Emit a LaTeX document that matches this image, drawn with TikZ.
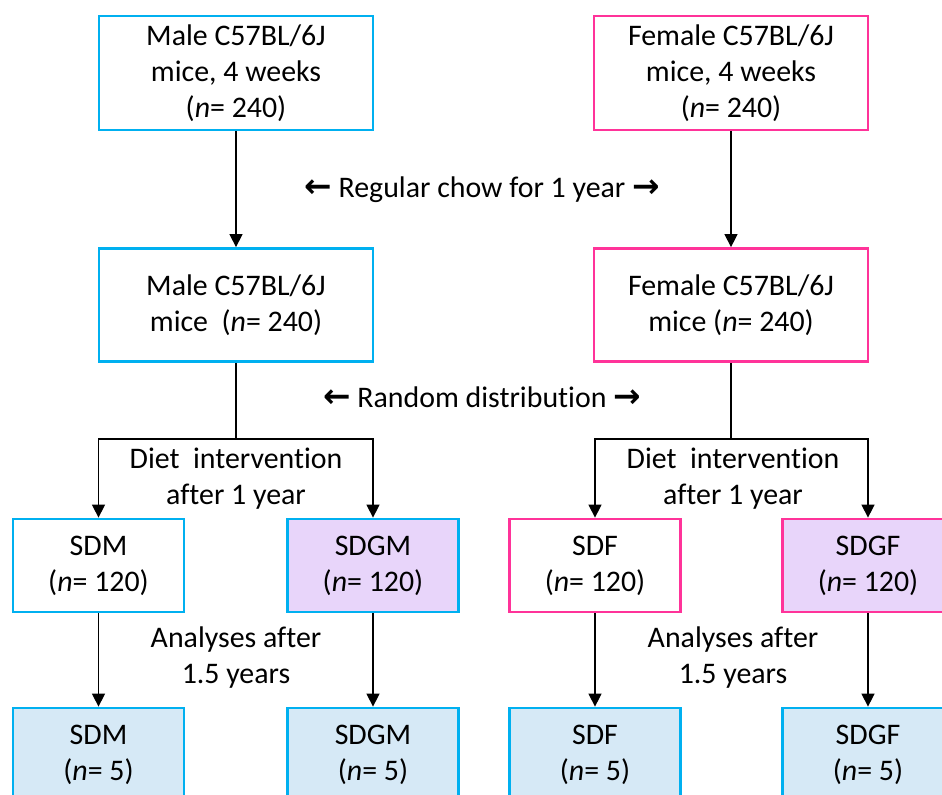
\documentclass[tikz,border=0pt]{standalone}
\usepackage{fontspec}
\setmainfont[Ligatures=NoCommon]{Carlito}
\newfontfamily\arrowfont[Scale=1.1]{DejaVu Sans Bold}
\usetikzlibrary{arrows.meta}
\definecolor{maleblue}{HTML}{00B0F0}
\definecolor{femalepink}{HTML}{FF3399}
\definecolor{sdgfill}{HTML}{E8D5FA}
\definecolor{endfill}{HTML}{D6E9F6}
\tikzset{
    malebox/.style={draw=maleblue, line width=1.6pt, inner sep=0pt, align=center, minimum width=5.48cm, minimum height=2.28cm},
    femalebox/.style={draw=femalepink, line width=1.6pt, inner sep=0pt, align=center, minimum width=5.48cm, minimum height=2.28cm},
    dietbox/.style={line width=1.6pt, inner sep=0pt, align=center, minimum width=3.42cm, minimum height=1.86cm},
    endbox/.style={draw=maleblue, fill=endfill, line width=1.6pt, inner sep=0pt, align=center, minimum width=3.42cm, minimum height=1.86cm},
    steplabel/.style={align=center},
}

\begin{document}
\begin{tikzpicture}[
    x=0.02cm, y=-0.02cm,
    >={Triangle[length=2.6mm, width=2.6mm]}, line width=0.8pt,
    every node/.style={font=\fontsize{17}{20.5}\selectfont},
]
\useasboundingbox (0,0) rectangle (942,794);
\clip (0,0) rectangle (942,794);

\node[malebox] (m4w) at (236,73) {Male C57BL/6J\\mice, 4 weeks\\(\textit{n}= 240)};
\node[femalebox] (f4w) at (731,73) {Female C57BL/6J\\mice, 4 weeks\\(\textit{n}= 240)};
\node[malebox, minimum height=2.26cm] (m1y) at (236,305) {Male C57BL/6J\\mice\ \ (\textit{n}= 240)};
\node[femalebox, minimum height=2.26cm] (f1y) at (731,305) {Female C57BL/6J\\mice (\textit{n}= 240)};

\node (chow) at (482,190) {{\arrowfont ←} Regular chow for 1 year {\arrowfont →}};
\node (rand) at (482,397) {{\arrowfont ←} Random distribution {\arrowfont →}};

\node[dietbox, draw=maleblue] (sdm) at (98.5,565.5) {SDM\\(\textit{n}= 120)};
\node[dietbox, draw=maleblue, fill=sdgfill] (sdgm) at (373,565.5) {SDGM\\(\textit{n}= 120)};
\node[dietbox, draw=femalepink] (sdf) at (595,565.5) {SDF\\(\textit{n}= 120)};
\node[dietbox, draw=femalepink, fill=sdgfill] (sdgf) at (868,565.5) {SDGF\\(\textit{n}= 120)};

\node[endbox] (sdm5) at (98.5,754.5) {SDM\\(\textit{n}= 5)};
\node[endbox] (sdgm5) at (373,754.5) {SDGM\\(\textit{n}= 5)};
\node[endbox] (sdf5) at (595,754.5) {SDF\\(\textit{n}= 5)};
\node[endbox] (sdgf5) at (868,754.5) {SDGF\\(\textit{n}= 5)};

\node[steplabel] (mdiet) at (236,479) {Diet\ \ intervention\\after 1 year};
\node[steplabel] (fdiet) at (733,479) {Diet\ \ intervention\\after 1 year};
\node[steplabel] (mana) at (236,658) {Analyses after\\1.5 years};
\node[steplabel] (fana) at (733,658) {Analyses after\\1.5 years};

\coordinate (msplit) at (236,439);
\coordinate (fsplit) at (731,439);

\draw[->] (m4w) -- (m1y);
\draw[->] (f4w) -- (f1y);
\draw (m1y) -- (msplit);
\draw (f1y) -- (fsplit);
\draw[->] (msplit) -| (sdm);
\draw[->] (msplit) -| (sdgm);
\draw[->] (fsplit) -| (sdf);
\draw[->] (fsplit) -| (sdgf);
\draw[->] (sdm) -- (sdm5);
\draw[->] (sdgm) -- (sdgm5);
\draw[->] (sdf) -- (sdf5);
\draw[->] (sdgf) -- (sdgf5);
\end{tikzpicture}
\end{document}
